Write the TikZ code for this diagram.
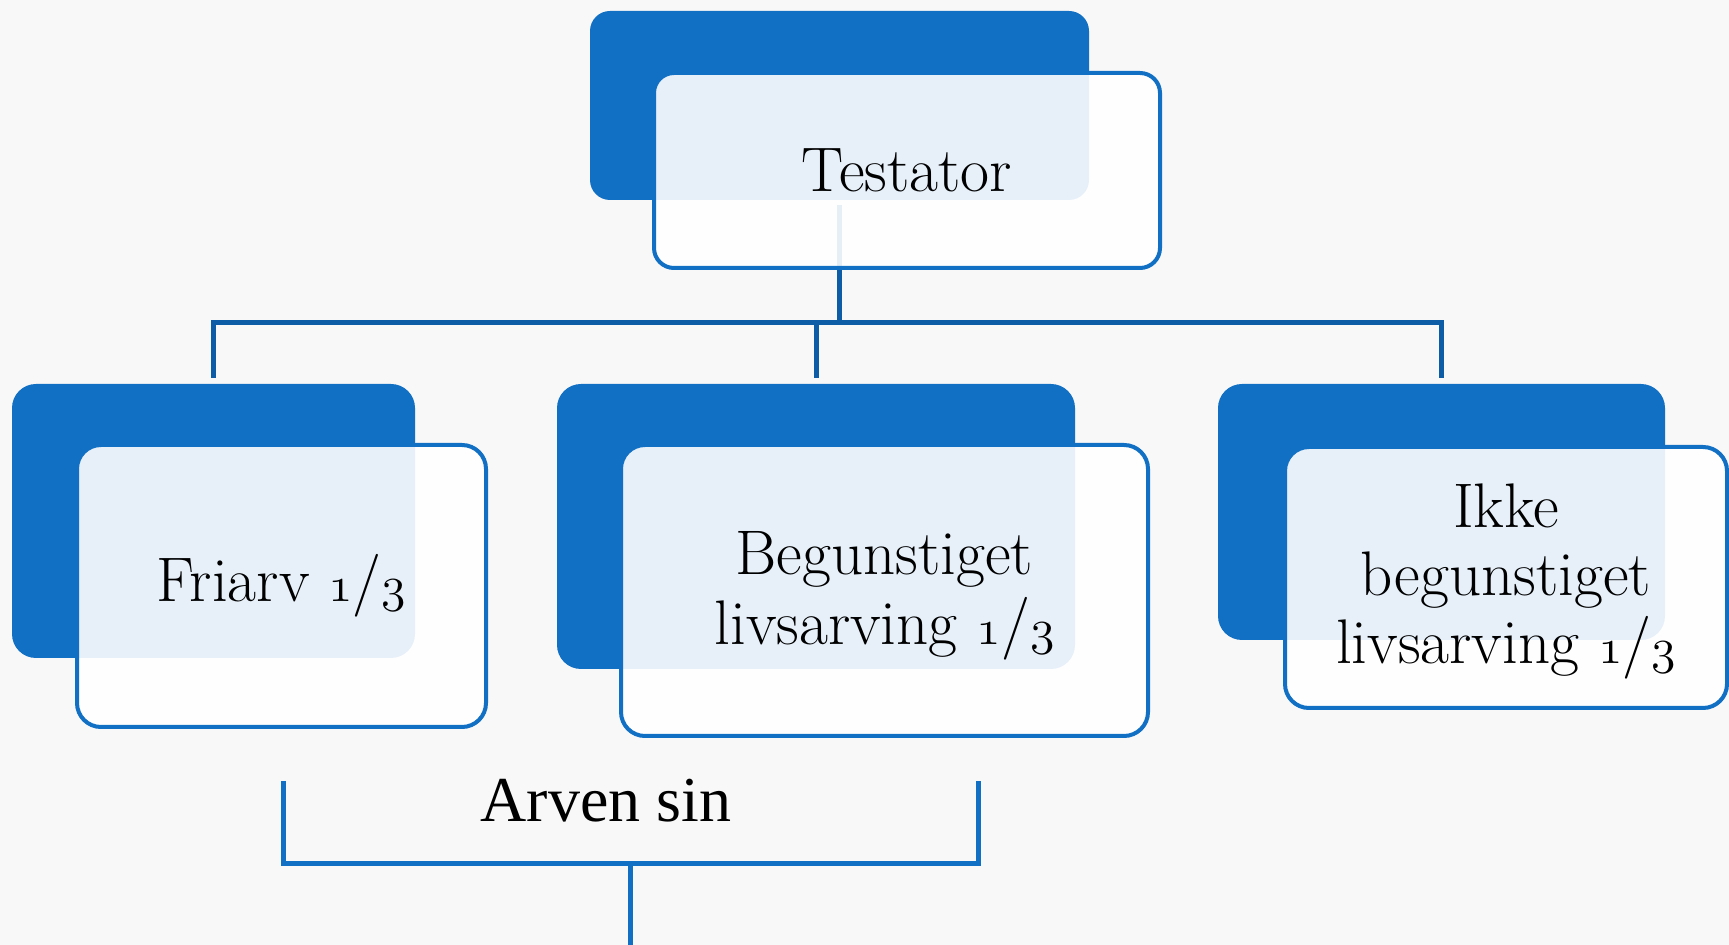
\documentclass[tikz,border=0pt]{standalone}
\usepackage{fontspec}
\newfontfamily\timesfont{Liberation Serif}

% old-style figures taken from the Latin Modern math italic font
\newcommand\osnum[1]{{\fontencoding{OML}\fontfamily{lmm}\fontseries{m}\fontshape{it}\selectfont #1}}
\newcommand\third{\osnum{1}/\osnum{3}}

\definecolor{boxblue}{RGB}{17,112,196}
\definecolor{linkblue}{RGB}{12,92,166}
\definecolor{paper}{RGB}{248,248,248}

\pgfdeclarelayer{bg}
\pgfdeclarelayer{lines}
\pgfsetlayers{bg,lines,main}

\tikzset{
  backbox/.style={rectangle, rounded corners=12pt, fill=boxblue, inner sep=0pt},
  frontbox/.style={rectangle, rounded corners=12pt, draw=boxblue, line width=2pt,
    fill=white, fill opacity=0.9, draw opacity=1, inner sep=0pt},
  boxtext/.style={inner sep=0pt, align=center, text=black,
    font=\fontsize{31.5pt}{35pt}\selectfont},
  link/.style={draw=linkblue, line width=2.5pt},
  bracket/.style={draw=boxblue, line width=2.5pt},
}

\begin{document}
\begin{tikzpicture}[x=0.5pt,y=-0.5pt]
\begin{pgfonlayer}{bg}
  \fill[paper] (0,0) rectangle (1729,945);
\end{pgfonlayer}
\useasboundingbox (0,0) rectangle (1729,945);

% root
\node[backbox, rounded corners=10pt, minimum width=249.5pt, minimum height=94.5pt] (tdark) at (839.5,105.5) {};
\node[frontbox, rounded corners=10pt, minimum width=253pt, minimum height=97.5pt] (twhite) at (907,170.5) {};
\node[boxtext] (ttext) at (twhite.center) {Testator};

% children
\node[backbox, minimum width=201.5pt, minimum height=137pt] (ldark) at (213.5,521) {};
\node[frontbox, minimum width=204.5pt, minimum height=141pt] (lwhite) at (281.5,586) {};
\node[boxtext] (ltext) at (lwhite.center) {Friarv \third};

\node[backbox, minimum width=259pt, minimum height=142.5pt] (mdark) at (816,526.5) {};
\node[frontbox, minimum width=263.5pt, minimum height=145.5pt] (mwhite) at (884.5,590.5) {};
\node[boxtext, yshift=-2.5pt] (mtext) at (mwhite.center) {Begunstiget\\livsarving \third};

\node[backbox, minimum width=223.5pt, minimum height=128pt] (rdark) at (1441.5,512) {};
\node[frontbox, minimum width=221pt, minimum height=130.5pt] (rwhite) at (1506,577.5) {};
\node[boxtext, yshift=-1.75pt, font=\fontsize{31.5pt}{34pt}\selectfont] (rtext) at (rwhite.center)
  {Ikke\\begunstiget\\livsarving \third};

% hierarchy connectors, kept behind the boxes
\begin{pgfonlayer}{lines}
  \coordinate (bar) at (839.5,323);
  \draw[link, shorten <=2.5pt] (tdark.south) -- (tdark.south |- bar);
  \draw[link, shorten <=3pt, shorten >=3pt]
    (ldark.north) -- (ldark.north |- bar) -- (rdark.north |- bar) -- (rdark.north);
  \draw[link, shorten <=3pt] (mdark.north) -- (mdark.north |- bar);
\end{pgfonlayer}

% bracket under the first two shares
\node[font=\timesfont\fontsize{32pt}{38pt}\selectfont, anchor=base] (arven) at (606,821) {Arven sin};
\coordinate (brL) at (283,781);
\coordinate (brR) at (978,781);
\coordinate (brB) at (630.5,863);
\coordinate (stem) at (630.5,950);
\draw[bracket] (brL) |- (brB) -| (brR);
\draw[bracket] (brB) -- (stem);
\end{tikzpicture}
\end{document}
